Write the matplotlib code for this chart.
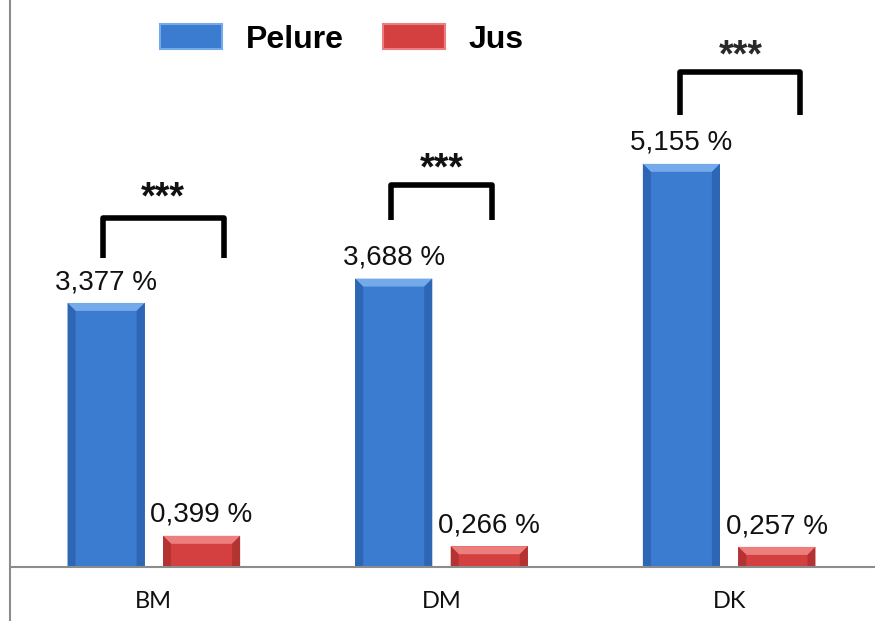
import matplotlib
matplotlib.use("Agg")
import matplotlib.pyplot as plt
from matplotlib.patches import Polygon, Rectangle
import numpy as np

# Data
categories = ["BM", "DM", "DK"]
pelure = [3.377, 3.688, 5.155]
jus = [0.399, 0.266, 0.257]
series_names = ["Pelure", "Jus"]
significance = ["***", "***", "***"]

plt.rcParams["font.family"] = ["Liberation Sans", "DejaVu Sans"]

W, H = 884, 621
fig = plt.figure(figsize=(W / 100, H / 100), dpi=100)
ax = fig.add_axes([10 / W, 0, 865 / W, 1])

ax.set_xlim(-0.5, 2.5 + 2 * 3 / 863)
ax.set_ylim(-54 / 78.2, 567 / 78.2)

x = np.arange(len(categories))
off = 0.166
width = 0.268

palette = {
    "Pelure": dict(face="#3b7bd0", top="#74a9ea", side="#2d66b5", bottom="#23497f"),
    "Jus": dict(face="#d4403f", top="#ec7f7d", side="#b23332", bottom="#6e2222"),
}

# px -> data conversion (per unit)
px_x = 3 / 863.0
px_y = 1 / 78.2


def bevel(rect, cols, b=8):
    x0, y0 = rect.get_x(), rect.get_y()
    w, h = rect.get_width(), rect.get_height()
    x1, y1 = x0 + w, y0 + h
    bx = b * px_x
    by = min(b * px_y, h / 2)
    # top face
    ax.add_patch(Polygon([(x0, y1), (x1, y1), (x1 - bx, y1 - by), (x0 + bx, y1 - by)],
                         closed=True, facecolor=cols["top"], edgecolor="none", zorder=3))
    # left / right faces
    ax.add_patch(Polygon([(x0, y1), (x0 + bx, y1 - by), (x0 + bx, y0), (x0, y0)],
                         closed=True, facecolor=cols["side"], edgecolor="none", zorder=3))
    ax.add_patch(Polygon([(x1, y1), (x1 - bx, y1 - by), (x1 - bx, y0), (x1, y0)],
                         closed=True, facecolor=cols["side"], edgecolor="none", zorder=3))


for name, vals, sign in (("Pelure", pelure, -1), ("Jus", jus, 1)):
    cols = palette[name]
    bars = ax.bar(x + sign * off, vals, width=width, color=cols["face"],
                  edgecolor="none", zorder=2, label=name)
    for rect, v in zip(bars, vals):
        bevel(rect, cols)
        ax.annotate(f"{v:.3f} %".replace(".", ","),
                    (rect.get_x() + rect.get_width() / 2, v),
                    xytext=(0, 10), textcoords="offset points",
                    ha="center", va="baseline", fontsize=20, color="#111111")

# Significance brackets: left leg x, right leg x, top y, leg bottom y
br_left = [-0.175, -0.175, -0.17]
br_right = [0.243, 0.177, 0.247]
br_top = [4.46, 4.88, 6.33]
br_bottom = [3.95, 4.44, 5.78]
star_x = [0.03, 0.0, 0.04]
star_y = [4.58, 4.96, 6.40]
star_col = ["#111111", "#111111", "#2a2a2a"]

for i in range(len(categories)):
    xl, xr = x[i] + br_left[i], x[i] + br_right[i]
    ax.plot([xl, xl, xr, xr], [br_bottom[i], br_top[i], br_top[i], br_bottom[i]],
            color="black", lw=4, solid_joinstyle="round", solid_capstyle="butt", zorder=4)
    ax.text(x[i] + star_x[i], star_y[i], significance[i], ha="center", va="baseline",
            fontsize=27, fontweight="bold", color=star_col[i])

# Axes lines
ax.axhline(0, color="#8c8c8c", lw=1.5, zorder=5)
for s in ("top", "right", "bottom"):
    ax.spines[s].set_visible(False)
ax.spines["left"].set_color("#8c8c8c")
ax.spines["left"].set_linewidth(1.5)
ax.set_yticks([])
ax.set_xticks([])

for xi, c in zip(x, categories):
    ax.text(xi, -35 * px_y, c, ha="center", va="center", fontsize=17,
            family=["Lato", "DejaVu Sans"], color="#111111")

# Legend
handles = [Rectangle((0, 0), 1, 1, facecolor=palette[n]["face"],
                     edgecolor=palette[n]["top"], lw=1.5) for n in series_names]
leg = fig.legend(handles, series_names, loc="upper left",
                 bbox_to_anchor=(160 / W, 1 - 24 / H), ncol=2, frameon=False,
                 prop=dict(family="Liberation Sans", weight="bold", size=23),
                 handlelength=1.95, handleheight=0.85, handletextpad=0.75,
                 columnspacing=1.2, borderpad=0, borderaxespad=0)

fig.savefig("out.png", dpi=100)
